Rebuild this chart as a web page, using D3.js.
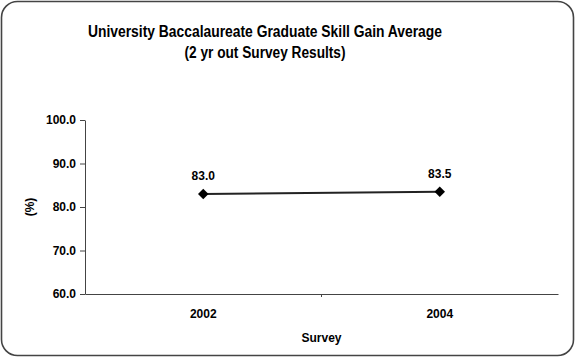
<!DOCTYPE html>
<html><head><meta charset="utf-8">
<script src="https://cdn.jsdelivr.net/npm/d3@7"></script>
<style>body{margin:0;background:#fff}svg{display:block;font-family:Arial,"Liberation Sans",sans-serif}</style>
</head><body>
<script>
const categories = ["2002", "2004"];
const values = [83.0, 83.5];
const yTicks = [60, 70, 80, 90, 100];
const titleLines = ["University Baccalaureate Graduate Skill Gain Average", "(2 yr out Survey Results)"];

(function () {
const W = 575, H = 358;
const svg = d3.select("body").append("svg").attr("width", W).attr("height", H);
svg.append("rect").attr("x", 1.5).attr("y", 1.5).attr("width", W - 3).attr("height", H - 4)
  .attr("rx", 16).attr("fill", "#fff").attr("stroke", "#444").attr("stroke-width", 1.6);

const pL = 85, pR = 558, pT = 120, pB = 294;
const x = d3.scaleBand().domain(categories).range([pL, pR]);
const y = d3.scaleLinear().domain([60, 100]).range([pB, pT]);

const titleWidths = [354, 161];
svg.selectAll("text.title").data(titleLines).enter().append("text")
  .attr("x", 265).attr("y", (d, i) => 37 + i * 21).attr("text-anchor", "middle")
  .attr("font-size", 16).attr("font-weight", "bold").attr("fill", "#000")
  .attr("textLength", (d, i) => titleWidths[i]).attr("lengthAdjust", "spacingAndGlyphs")
  .text(d => d);

// y axis
const ya = svg.append("g").attr("transform", `translate(${pL},0)`)
  .call(d3.axisLeft(y).tickValues(yTicks).tickFormat(d3.format(".1f")).tickSize(5).tickSizeOuter(0));
ya.select(".domain").attr("stroke", "#444");
ya.selectAll(".tick line").attr("stroke", "#444");
ya.selectAll(".tick text").attr("font-size", 12).attr("font-weight", "bold").attr("fill", "#000")
  .attr("font-family", "Arial, 'Liberation Sans', sans-serif").attr("x", -9);

// x axis
const xa = svg.append("g").attr("transform", `translate(0,${pB})`)
  .call(d3.axisBottom(x).tickSize(0).tickSizeOuter(0));
xa.select(".domain").attr("stroke", "#444");
xa.selectAll(".tick text").attr("font-size", 12).attr("font-weight", "bold").attr("fill", "#000")
  .attr("font-family", "Arial, 'Liberation Sans', sans-serif").attr("dy", null).attr("y", 24);
// middle divider tick
xa.append("line").attr("x1", x(categories[1])).attr("x2", x(categories[1]))
  .attr("y1", 0).attr("y2", 3).attr("stroke", "#444");

svg.append("text").attr("x", (pL + pR) / 2).attr("y", 342).attr("text-anchor", "middle")
  .attr("font-size", 12).attr("font-weight", "bold").text("Survey");
svg.append("text").attr("transform", `translate(34,${(pT + pB) / 2}) rotate(-90)`)
  .attr("text-anchor", "middle").attr("font-size", 12).attr("font-weight", "bold").text("(%)");

const cx = d => x(d) + x.bandwidth() / 2;
const line = d3.line().x((d, i) => cx(categories[i])).y(d => y(d));
svg.append("path").datum(values).attr("d", line).attr("fill", "none").attr("stroke", "#222").attr("stroke-width", 2);

svg.selectAll("path.pt").data(values).enter().append("path")
  .attr("d", d3.symbol().type(d3.symbolDiamond2).size(70))
  .attr("transform", (d, i) => `translate(${cx(categories[i])},${y(d)})`).attr("fill", "#000");

svg.selectAll("text.lbl").data(values).enter().append("text")
  .attr("x", (d, i) => cx(categories[i])).attr("y", d => y(d) - 14).attr("text-anchor", "middle")
  .attr("font-size", 12).attr("font-weight", "bold").text(d => d.toFixed(1));
})();
</script>
</body></html>
